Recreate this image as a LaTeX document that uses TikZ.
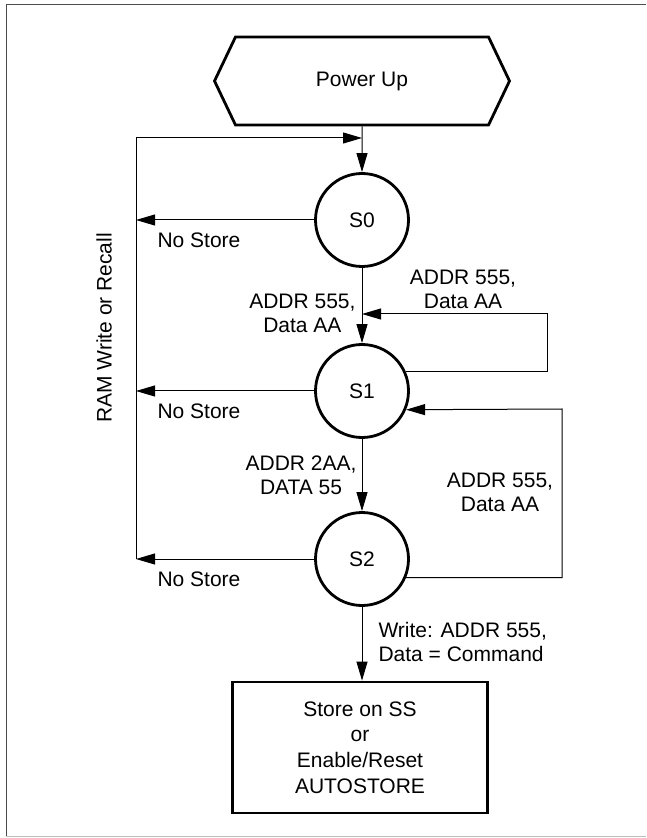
\documentclass[tikz,border=0pt]{standalone}
\usepackage{fontspec}
\setmainfont{Liberation Sans}
\usetikzlibrary{positioning,arrows.meta,shapes.symbols}
\tikzset{
  fsm/.style={x=0.5pt,y=-0.5pt,line width=0.5pt,>={Triangle[length=9.5pt,width=5.5pt]},
    font=\fontsize{10.5}{12}\selectfont,on grid},
  st/.style={circle,draw,line width=1.4pt,minimum size=46.5pt,inner sep=0pt},
  hexa/.style={signal,signal to=west and east,signal pointer angle=129,draw,
    line width=1.4pt,minimum width=147.5pt,minimum height=44pt},
  actbox/.style={rectangle,draw,line width=1.4pt,minimum width=127.5pt,minimum height=65.5pt,
    align=center,font=\fontsize{10.5}{12.8}\selectfont},
  lbl/.style={inner sep=0pt},
}

\begin{document}
\begin{tikzpicture}[fsm]
  \useasboundingbox (0,0) rectangle (646,838);
  \draw[black!70] (6,836) -- (6,5) -- (646,5);
  \draw[black!25] (6,836) -- (646,836);

  % states
  \node[hexa] (pwr) at (362,81) {Power Up};
  \node[st] (s0) at (362,220) {S0};
  \node[st] (s1) [below=85.5pt of s0] {S1};
  \node[st] (s2) [below=84pt of s1] {S2};
  \node[actbox] (sto) at (360,747.5) {Store on SS\\or\\Enable/Reset\\AUTOSTORE};

  \coordinate (ltop) at (136,138);
  \coordinate (lbot) at (136,559);
  \coordinate (r1) at (547,314);
  \coordinate (r2) at (562,409);

  % main flow
  \draw[->] (pwr) -- (s0);
  \draw[->] (s0) -- (s1);
  \draw[->] (s1) -- (s2);
  \draw[->] (s2) -- (s2 |- sto.north);

  % no store, back to S0
  \draw[->] (s0) -- (s0 -| ltop);
  \draw[->] (s1) -- (s1 -| ltop);
  \draw[->] (s2) -- (s2 -| ltop);
  \draw[->] (lbot) -- (ltop) -- (ltop -| pwr);

  % retries
  \draw[->] (s1.24) -| (r1) -- (r1 -| s1);
  \draw[->] (s2.-23) -| (r2) -- (s1.-23);

  % labels
  \node[lbl] (ns0) at (199,240) {No Store};
  \node[lbl] (ns1) at (199,411) {No Store};
  \node[lbl] (ns2) at (199,579) {No Store};
  \node[lbl,anchor=east,align=center] (l01) at (356,313) {ADDR 555,\\Data AA};
  \node[lbl,align=center] (l11) at (463,289) {ADDR 555,\\Data AA};
  \node[lbl,anchor=east,align=center] (l12) at (357,475) {ADDR 2AA,\\DATA 55};
  \node[lbl,align=center] (l21) at (500,492) {ADDR 555,\\Data AA};
  \node[lbl,anchor=west,align=left] (l2s) at (378,642) {Write: ADDR 555,\\Data = Command};
  \node[lbl,rotate=90] (ram) at (104,328) {RAM Write or Recall};
\end{tikzpicture}
\end{document}
